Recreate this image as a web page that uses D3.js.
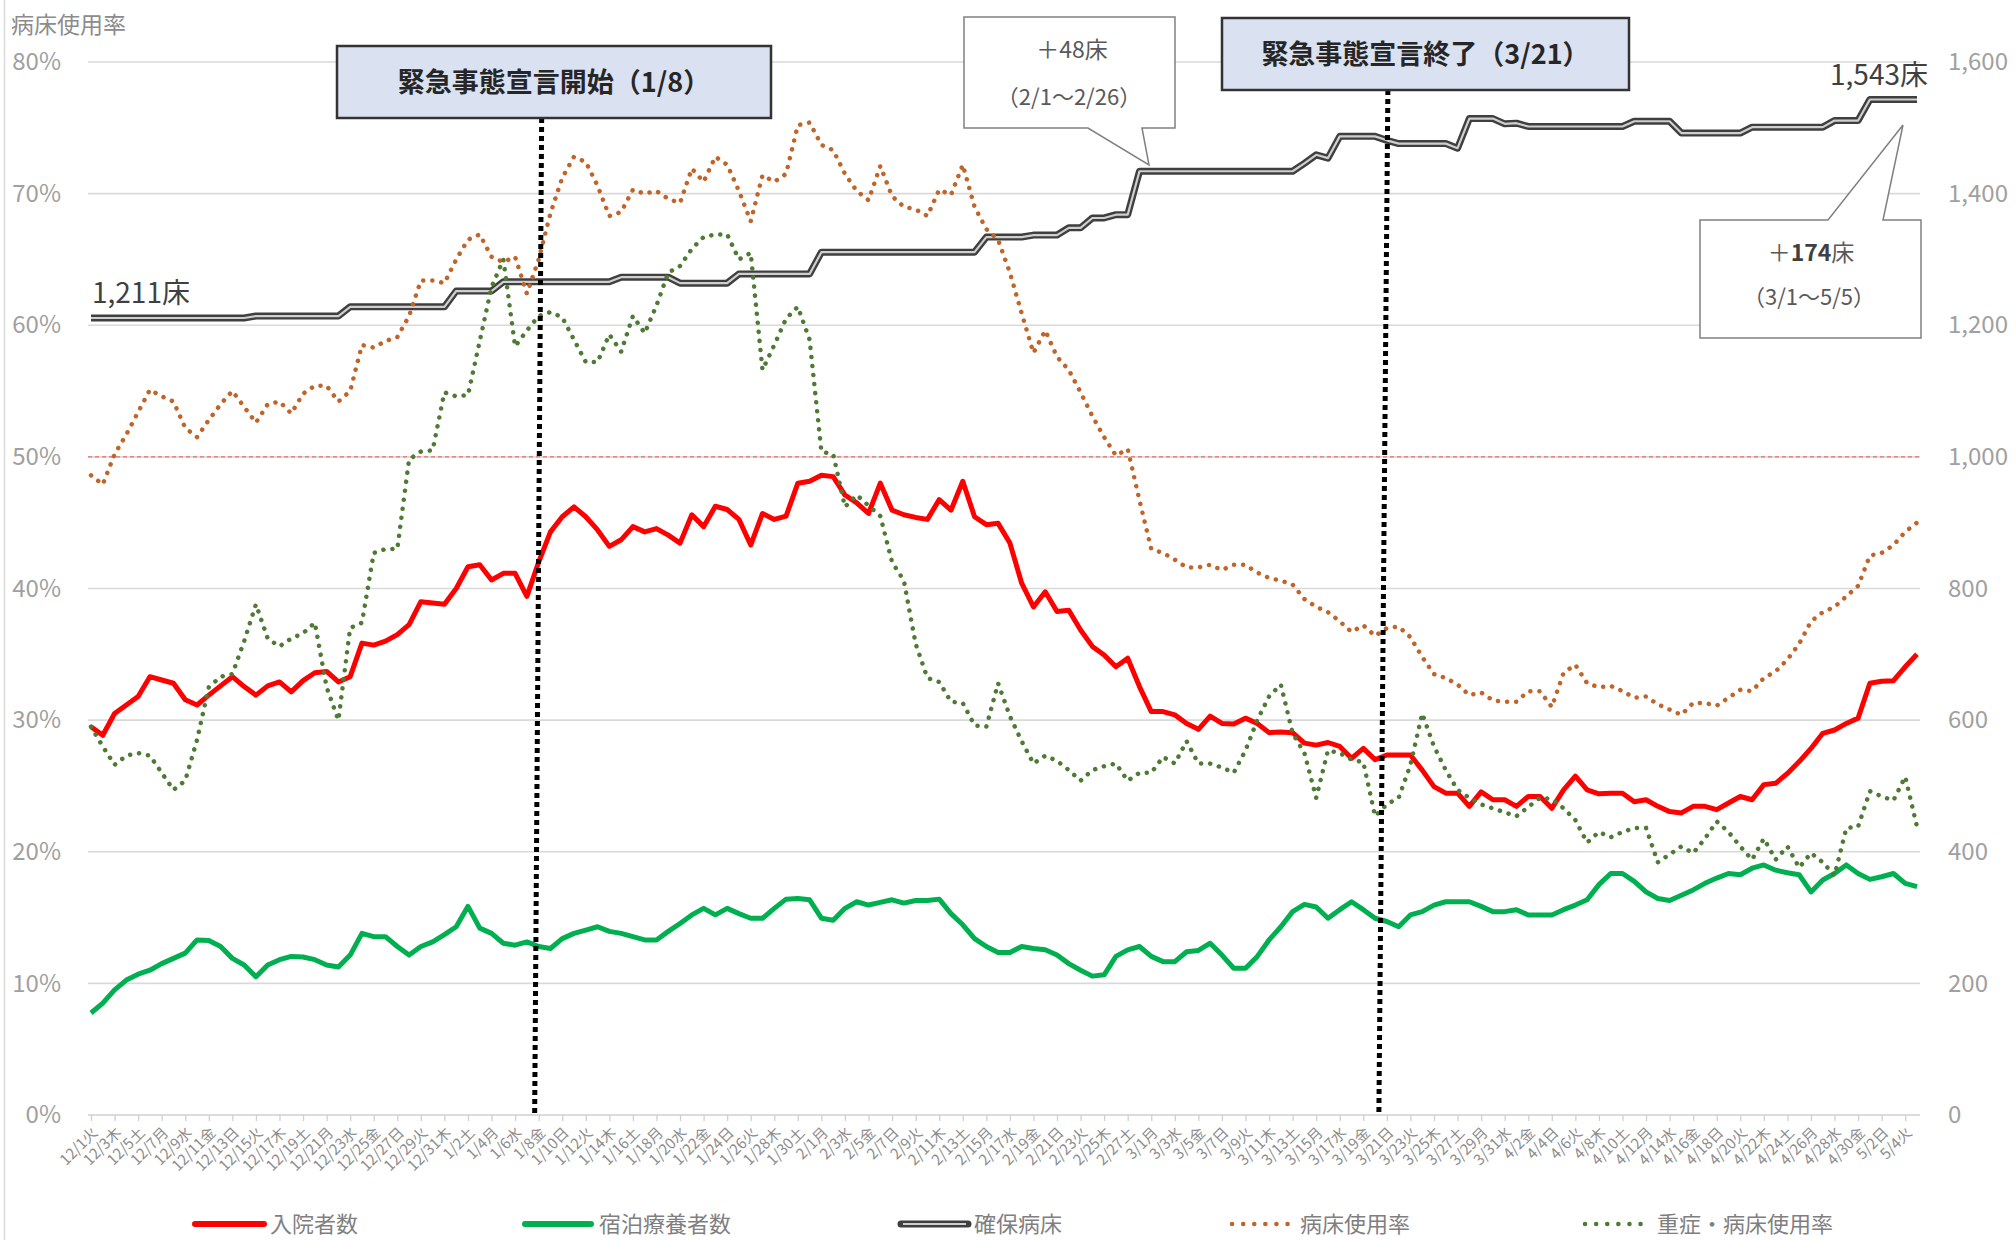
<!DOCTYPE html>
<html><head><meta charset="utf-8">
<script src="https://cdn.jsdelivr.net/npm/d3@7"></script>
<style>
html,body{margin:0;padding:0;background:#fff;}
svg{display:block;font-family:"Noto Sans CJK JP","Noto Sans",sans-serif;}
</style></head><body>
<svg id="chart" width="2016" height="1240"></svg>
<script>
// ---- categories ----
const firstDay = new Date(2020, 11, 1);
const dayCount = 156; // 12/1 .. 5/5
const weekdayNames = ["日","月","火","水","木","金","土"];

// ---- series (right axis, persons / beds) ----
const hospitalized = [590,577,610,623,636,666,661,656,631,623,638,652,666,651,638,652,658,643,660,672,674,658,666,717,714,720,730,745,780,778,
776,800,833,836,813,823,823,788,840,886,909,924,909,889,864,874,894,886,891,881,869,912,894,925,920,905,866,914,905,910,
960,963,972,970,942,930,914,960,919,912,908,905,935,919,963,909,897,899,869,808,772,795,765,767,737,712,699,681,694,651,
613,613,608,595,586,606,595,594,603,595,581,582,581,565,562,566,560,542,557,540,547,547,547,524,499,489,489,469,491,479,
479,469,484,484,466,494,515,494,488,489,489,476,479,469,461,459,469,469,464,474,484,479,502,504,519,537,557,580,585,595,
603,656,659,660,681,700];
const hotel = [155,170,190,205,214,220,230,238,246,266,265,256,238,228,210,228,236,241,240,236,228,225,243,276,271,271,256,243,256,263,
274,286,317,284,276,261,258,263,256,253,268,276,281,286,279,276,271,266,266,279,291,304,314,304,314,306,299,299,314,328,
329,327,299,296,314,324,319,323,327,322,326,326,328,306,289,268,256,247,247,256,253,251,243,230,220,211,213,241,251,256,
241,233,233,248,250,261,243,223,223,241,266,286,309,320,316,299,312,324,312,299,294,286,304,309,319,324,324,324,317,309,
309,312,304,304,304,312,319,327,350,367,367,355,339,329,326,334,342,352,360,367,365,375,380,372,368,365,339,357,367,380,
367,358,362,367,352,347];
const securedBeds = [1211,1211,1211,1211,1211,1211,1211,1211,1211,1211,1211,1211,1211,1211,1214,1214,1214,1214,1214,1214,1214,1214,1228,1228,1228,1228,1228,1228,1228,1228,
1228,1252,1252,1252,1252,1266,1266,1266,1266,1266,1266,1266,1266,1266,1266,1273,1273,1273,1273,1273,1264,1264,1264,1264,1264,1278,1278,1278,1278,1278,
1278,1278,1311,1311,1311,1311,1311,1311,1311,1311,1311,1311,1311,1311,1311,1311,1334,1334,1334,1334,1337,1337,1337,1348,1348,1363,1363,1368,1368,1434,
1434,1434,1434,1434,1434,1434,1434,1434,1434,1434,1434,1434,1434,1446,1459,1454,1487,1487,1487,1487,1481,1476,1476,1476,1476,1476,1469,1514,1514,1514,
1506,1507,1502,1502,1502,1502,1502,1502,1502,1502,1502,1510,1510,1510,1510,1492,1492,1492,1492,1492,1492,1501,1501,1501,1501,1501,1501,1501,1511,1511,
1511,1543,1543,1543,1543,1543];
// ---- series (left axis, %) ----
const bedRate = [48.6,47.9,50.2,51.7,53.4,55.1,54.6,54.2,52.2,51.5,52.8,54.0,55.0,53.8,52.6,54.0,54.2,53.3,54.8,55.4,55.4,54.2,55.0,58.5,58.3,58.8,59.1,60.7,63.4,63.4,
63.2,65.0,66.5,66.9,65.2,64.8,65.2,62.4,65.0,68.5,71.2,72.8,72.4,70.6,68.3,68.6,70.3,70.0,70.2,69.6,69.3,71.9,70.9,72.8,72.2,70.2,67.9,71.4,70.9,71.5,
75.2,75.4,73.7,73.3,71.5,70.2,69.5,72.1,69.8,69.0,68.8,68.3,70.3,69.9,72.2,69.0,67.3,66.5,64.0,60.9,57.9,59.6,57.6,56.6,54.9,53.1,51.5,50.1,50.6,46.7,
43.0,42.7,42.2,41.6,41.6,41.8,41.4,41.8,41.8,41.2,40.8,40.6,40.3,39.2,38.6,38.2,37.5,36.7,37.2,36.4,37.0,37.1,36.3,34.8,33.5,33.2,32.7,31.9,32.1,31.5,
31.4,31.4,32.2,32.2,31.0,33.6,34.2,32.8,32.5,32.6,32.2,31.7,31.8,31.2,30.8,30.4,31.3,31.3,31.1,31.7,32.3,32.2,33.2,33.7,34.6,35.8,37.5,38.2,38.6,39.4,
40.2,42.5,42.7,43.3,44.3,45.0];
const severeRate = [29.5,28.0,26.6,27.3,27.5,27.3,26.0,24.7,25.4,28.5,32.5,33.3,33.5,36.0,38.8,36.2,35.6,36.2,36.6,37.4,32.5,30.0,37.0,37.4,42.7,43.0,43.0,49.8,50.4,50.5,
54.9,54.6,54.7,58.8,62.9,65.0,58.4,59.6,60.7,61.0,60.6,58.9,57.2,57.2,59.3,58.0,60.7,59.4,61.5,64.0,64.5,65.8,66.7,66.9,66.9,65.0,65.5,56.6,58.5,60.5,
61.4,58.9,50.4,50.2,46.2,47.1,46.3,45.5,42.0,40.6,35.8,33.2,32.9,31.4,31.3,29.6,29.5,32.8,30.3,28.4,26.7,27.3,26.9,26.2,25.4,26.2,26.5,26.7,25.4,26.0,
26.0,27.2,26.7,28.4,26.7,26.7,26.4,26.0,27.7,30.0,31.8,32.7,29.0,27.5,24.1,27.7,27.5,27.0,26.8,22.7,23.6,24.1,26.6,30.5,28.0,26.2,24.7,24.1,23.6,23.3,
23.0,22.7,23.4,24.1,24.0,23.3,22.4,20.7,21.5,21.1,21.5,21.8,21.8,19.2,19.8,20.4,19.9,21.0,22.3,21.5,20.4,19.4,21.0,19.4,20.4,18.8,19.9,19.2,18.2,21.8,
21.9,24.6,24.2,23.9,25.7,21.9];

// ---- tick labels / texts ----
const leftTicks = [0,0.1,0.2,0.3,0.4,0.5,0.6,0.7,0.8];
const rightTicks = [0,200,400,600,800,1000,1200,1400,1600];
const leftAxisTitle = "病床使用率";
const legendNames = ["入院者数","宿泊療養者数","確保病床","病床使用率","重症・病床使用率"];
const events = [{date:"1/8", text:"緊急事態宣言開始（1/8）"},{date:"3/21", text:"緊急事態宣言終了（3/21）"}];
const callout1 = ["＋48床","（2/1～2/26）"];
const callout2 = ["＋","174","床","（3/1～5/5）"];
const thresholdRate = 0.5;

// ---- build categories ----
const days = d3.timeDay.range(firstDay, d3.timeDay.offset(firstDay, dayCount));
const keys = days.map(d => `${d.getMonth()+1}/${d.getDate()}`);
const tickText = days.map(d => `${d.getMonth()+1}/${d.getDate()}${weekdayNames[d.getDay()]}`);

const svg = d3.select("#chart");
const W = 2016, H = 1240;
const plotL = 88, plotR = 1920, plotT = 62, plotB = 1115;

const x = d3.scalePoint().domain(keys).range([91, 1917]);
const yL = d3.scaleLinear().domain([0, 0.8]).range([plotB, plotT]);
const yR = d3.scaleLinear().domain([0, 1600]).range([plotB, plotT]);

svg.append("rect").attr("width", W).attr("height", H).attr("fill", "#fff");
svg.append("line").attr("x1", 4.5).attr("x2", 4.5).attr("y1", 0).attr("y2", H).attr("stroke", "#d9d9d9").attr("stroke-width", 1.5);

// gridlines
svg.append("g").selectAll("line").data(leftTicks).join("line")
  .attr("x1", plotL).attr("x2", plotR)
  .attr("y1", d => yL(d)).attr("y2", d => yL(d))
  .attr("stroke", "#d9d9d9").attr("stroke-width", 1.6);

// left axis
const gL = svg.append("g").attr("transform", `translate(64,0)`)
  .call(d3.axisLeft(yL).tickValues(leftTicks).tickFormat(d3.format(".0%")).tickSize(0).tickPadding(3));
gL.select(".domain").remove();
gL.selectAll("text").attr("font-size", 24).attr("fill", "#a0a0a0").attr("font-family", "'Noto Sans CJK JP'");

// right axis
const gR = svg.append("g").attr("transform", `translate(1945,0)`)
  .call(d3.axisRight(yR).tickValues(rightTicks).tickFormat(d3.format(",")).tickSize(0).tickPadding(3));
gR.select(".domain").remove();
gR.selectAll("text").attr("font-size", 24).attr("fill", "#a0a0a0").attr("font-family", "'Noto Sans CJK JP'");

// axis title
svg.append("text").attr("x", 11).attr("y", 33).attr("font-size", 23).attr("fill", "#8c8c8c").text(leftAxisTitle);

// x axis
const gX = svg.append("g").attr("transform", `translate(0,${plotB})`)
  .call(d3.axisBottom(x).tickValues(keys.filter((k, i) => i % 2 === 0)).tickSize(6).tickFormat(""));
gX.select(".domain").attr("d", `M${plotL},0H${plotR}`).attr("stroke", "#d9d9d9").attr("stroke-width", 1.6);
gX.selectAll(".tick line").attr("stroke", "#d0d0d0").attr("stroke-width", 1.3);
svg.append("g").selectAll("text").data(keys.filter((k, i) => i % 2 === 0)).join("text")
  .attr("transform", k => `translate(${x(k) + 4},${plotB + 15}) rotate(-45)`)
  .attr("text-anchor", "end").attr("dy", "0.35em")
  .attr("font-size", 15).attr("fill", "#8c8c8c")
  .text(k => tickText[keys.indexOf(k)]);

// threshold 50% line
svg.append("line").attr("x1", plotL).attr("x2", plotR)
  .attr("y1", yL(thresholdRate)).attr("y2", yL(thresholdRate))
  .attr("stroke", "#ee6a6a").attr("stroke-width", 1.3).attr("stroke-dasharray", "4 3");

// lines
const lineR = d3.line().x((d, i) => x(keys[i])).y(d => yR(d));
const lineL = d3.line().x((d, i) => x(keys[i])).y(d => yL(d / 100));

svg.append("path").datum(securedBeds).attr("d", lineR).attr("fill", "none")
  .attr("stroke", "#3f3f3f").attr("stroke-width", 7).attr("stroke-linejoin", "round");
svg.append("path").datum(securedBeds).attr("d", lineR).attr("fill", "none")
  .attr("stroke", "#cfcfcf").attr("stroke-width", 2.2).attr("stroke-linejoin", "round");

svg.append("path").datum(hotel).attr("d", lineR).attr("fill", "none")
  .attr("stroke", "#00b050").attr("stroke-width", 5).attr("stroke-linejoin", "round");
svg.append("path").datum(hospitalized).attr("d", lineR).attr("fill", "none")
  .attr("stroke", "#ff0000").attr("stroke-width", 5).attr("stroke-linejoin", "round");

svg.append("path").datum(bedRate).attr("d", lineL).attr("fill", "none")
  .attr("stroke", "#c0652a").attr("stroke-width", 4.5).attr("stroke-linecap", "round")
  .attr("stroke-dasharray", "0.1 9");
svg.append("path").datum(severeRate).attr("d", lineL).attr("fill", "none")
  .attr("stroke", "#4f7a35").attr("stroke-width", 4.5).attr("stroke-linecap", "round")
  .attr("stroke-dasharray", "0.1 9");

// labels on secured beds
svg.append("text").attr("x", x(keys[0]) + 1).attr("y", yR(securedBeds[0]) - 15)
  .attr("font-size", 28).attr("fill", "#404040").text(d3.format(",")(securedBeds[0]) + "床");
svg.append("text").attr("x", x(keys[dayCount - 1]) + 11).attr("y", yR(securedBeds[dayCount - 1]) - 15)
  .attr("text-anchor", "end").attr("font-size", 28).attr("fill", "#404040")
  .text(d3.format(",")(securedBeds[dayCount - 1]) + "床");

// event boxes and dotted vertical lines
const eventBoxes = [{x: 337, y: 46, w: 434, h: 72, slant: [3, -4]}, {x: 1222, y: 18, w: 407, h: 72, slant: [1, -8]}];
events.forEach((ev, i) => {
  const b = eventBoxes[i];
  const xe = x(ev.date);
  svg.append("line").attr("x1", xe + b.slant[0]).attr("y1", b.y + b.h)
    .attr("x2", xe + b.slant[1]).attr("y2", plotB)
    .attr("stroke", "#000").attr("stroke-width", 5).attr("stroke-dasharray", "5 4");
  svg.append("rect").attr("x", b.x).attr("y", b.y).attr("width", b.w).attr("height", b.h)
    .attr("fill", "#dae1f1").attr("stroke", "#333").attr("stroke-width", 2.5);
  svg.append("text").attr("x", b.x + b.w / 2).attr("y", b.y + b.h / 2 + 10)
    .attr("text-anchor", "middle").attr("font-size", 27).attr("font-weight", "bold")
    .attr("fill", "#262626").text(ev.text);
});

// callouts
svg.append("path").attr("d", "M964,17H1175V128H1142L1149,165L1088,128H964Z")
  .attr("fill", "#fff").attr("stroke", "#808080").attr("stroke-width", 1.5);
svg.append("text").attr("x", 1072).attr("y", 58).attr("text-anchor", "middle")
  .attr("font-size", 23).attr("fill", "#595959").text(callout1[0]);
svg.append("text").attr("x", 1069).attr("y", 105).attr("text-anchor", "middle")
  .attr("font-size", 22).attr("fill", "#595959").text(callout1[1]);

svg.append("path").attr("d", "M1700,220H1828L1903,125L1883,220H1921V338H1700Z")
  .attr("fill", "#fff").attr("stroke", "#808080").attr("stroke-width", 1.5);
const t2 = svg.append("text").attr("x", 1811).attr("y", 261).attr("text-anchor", "middle")
  .attr("font-size", 23).attr("fill", "#595959");
t2.append("tspan").text(callout2[0]);
t2.append("tspan").attr("font-weight", "bold").attr("fill", "#404040").text(callout2[1]);
t2.append("tspan").text(callout2[2]);
svg.append("text").attr("x", 1809).attr("y", 305).attr("text-anchor", "middle")
  .attr("font-size", 22).attr("fill", "#595959").text(callout2[3]);

// legend
const legendY = 1224;
const legendPos = [[195, 264, 270], [525, 591, 599], [901, 968, 974], [1229, 1296, 1300], [1582, 1651, 1657]];
const lg = svg.append("g");
legendNames.forEach((name, i) => {
  const [a, b, t] = legendPos[i];
  if (i === 0 || i === 1) {
    lg.append("line").attr("x1", a).attr("x2", b).attr("y1", legendY).attr("y2", legendY)
      .attr("stroke", i === 0 ? "#ff0000" : "#00b050").attr("stroke-width", 6).attr("stroke-linecap", "round");
  } else if (i === 2) {
    lg.append("line").attr("x1", a).attr("x2", b).attr("y1", legendY).attr("y2", legendY)
      .attr("stroke", "#3f3f3f").attr("stroke-width", 7).attr("stroke-linecap", "round");
    lg.append("line").attr("x1", a + 2).attr("x2", b - 2).attr("y1", legendY).attr("y2", legendY)
      .attr("stroke", "#cfcfcf").attr("stroke-width", 2.2);
  } else {
    lg.append("line").attr("x1", a + 3).attr("x2", b).attr("y1", legendY).attr("y2", legendY)
      .attr("stroke", i === 3 ? "#c0652a" : "#4f7a35").attr("stroke-width", 4.5)
      .attr("stroke-linecap", "round").attr("stroke-dasharray", "0.1 11");
  }
  lg.append("text").attr("x", t).attr("y", legendY + 8).attr("font-size", 22).attr("fill", "#7f7f7f").text(name);
});
</script>
</body></html>
